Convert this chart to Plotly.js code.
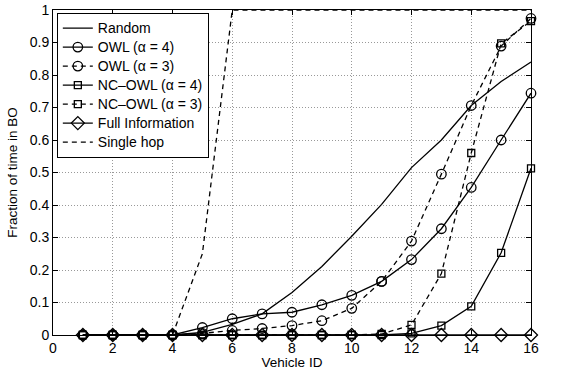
<!DOCTYPE html>
<html><head><meta charset="utf-8">
<script src="https://cdn.plot.ly/plotly-3.0.1.min.js"></script>
<style>body{margin:0;background:#fff}#c{width:561px;height:370px}</style>
</head><body><div id="c"></div>
<script>
const vehicles = [1,2,3,4,5,6,7,8,9,10,11,12,13,14,15,16];
const randomVals = [0,0,0,0,0.008,0.033,0.065,0.131,0.211,0.304,0.402,0.515,0.60,0.706,0.78,0.84];
const owl4 = [0,0,0,0,0.023,0.05,0.065,0.07,0.093,0.122,0.165,0.232,0.327,0.454,0.60,0.744];
const owl3 = [0,0,0,0,0.005,0.014,0.02,0.029,0.044,0.082,0.165,0.289,0.495,0.706,0.889,0.974];
const ncowl4 = [0,0,0,0,0,0,0,0,0,0,0,0.005,0.029,0.088,0.253,0.513];
const ncowl3 = [0,0,0,0,0,0,0,0,0,0,0.003,0.031,0.189,0.56,0.897,0.966];
const fullInfo = [0,0,0,0,0,0,0,0,0,0,0,0,0,0,0,0];
const singleHop = [0,0,0,0,0.25,1,1,1,1,1,1,1,1,1,1,1];
const names = ['Random','OWL (\u03b1 = 4)','OWL (\u03b1 = 3)','NC\u2013OWL (\u03b1 = 4)','NC\u2013OWL (\u03b1 = 3)','Full Information','Single hop'];

const FONT = 'Liberation Sans, Arial, sans-serif';
const DASH = '5px,4px';
const lw = 1.3;
function tr(y, name, dash, sym, msize){
  const t = {x: vehicles, y: y, name: '<span style="font-size:14px">' + name + '</span>', type:'scatter', cliponaxis:false,
    line:{color:'#000', width:lw, dash: dash}};
  if (sym){ t.mode='lines+markers'; t.marker={symbol:sym, size:msize, color:'#000', line:{color:'#000', width:1.3}}; }
  else t.mode='lines';
  return t;
}
const data = [
  tr(randomVals, names[0], 'solid', null),
  tr(owl4, names[1], 'solid', 'circle-open', 9.5),
  tr(owl3, names[2], DASH, 'circle-open', 9.5),
  tr(ncowl4, names[3], 'solid', 'square-open', 7),
  tr(ncowl3, names[4], DASH, 'square-open', 7),
  tr(fullInfo, names[5], 'solid', 'diamond-open', 10),
  tr(singleHop, names[6], DASH, null)
];
const axisCommon = {showline:true, mirror:'ticks', linecolor:'#000', linewidth:1, ticks:'inside', ticklen:5, tickcolor:'#000',
  showgrid:true, gridcolor:'#999', griddash:'1px,2px', gridwidth:1, zeroline:false,
  tickfont:{family:FONT, size:14, color:'#000'}};
const layout = {
  width:561, height:370, paper_bgcolor:'#fff', plot_bgcolor:'#fff',
  margin:{l:53, r:30, t:10, b:35},
  showlegend:true,
  legend:{x:0.008, y:0.992, xanchor:'left', yanchor:'top', bordercolor:'#000', borderwidth:1, bgcolor:'#fff',
    font:{family:FONT, size:11.5, color:'#000'}, tracegroupgap:0, itemwidth:30},
  xaxis: Object.assign({}, axisCommon, {range:[0,16], dtick:2, tick0:0,
    title:{text:'Vehicle ID', font:{family:FONT, size:13.5, color:'#000'}, standoff:0}}),
  yaxis: Object.assign({}, axisCommon, {range:[0,1], dtick:0.1, tick0:0,
    title:{text:'Fraction of time in BO', font:{family:FONT, size:13.5, color:'#000'}, standoff:9}})
};
Plotly.newPlot('c', data, layout, {displayModeBar:false, staticPlot:true});
</script></body></html>
